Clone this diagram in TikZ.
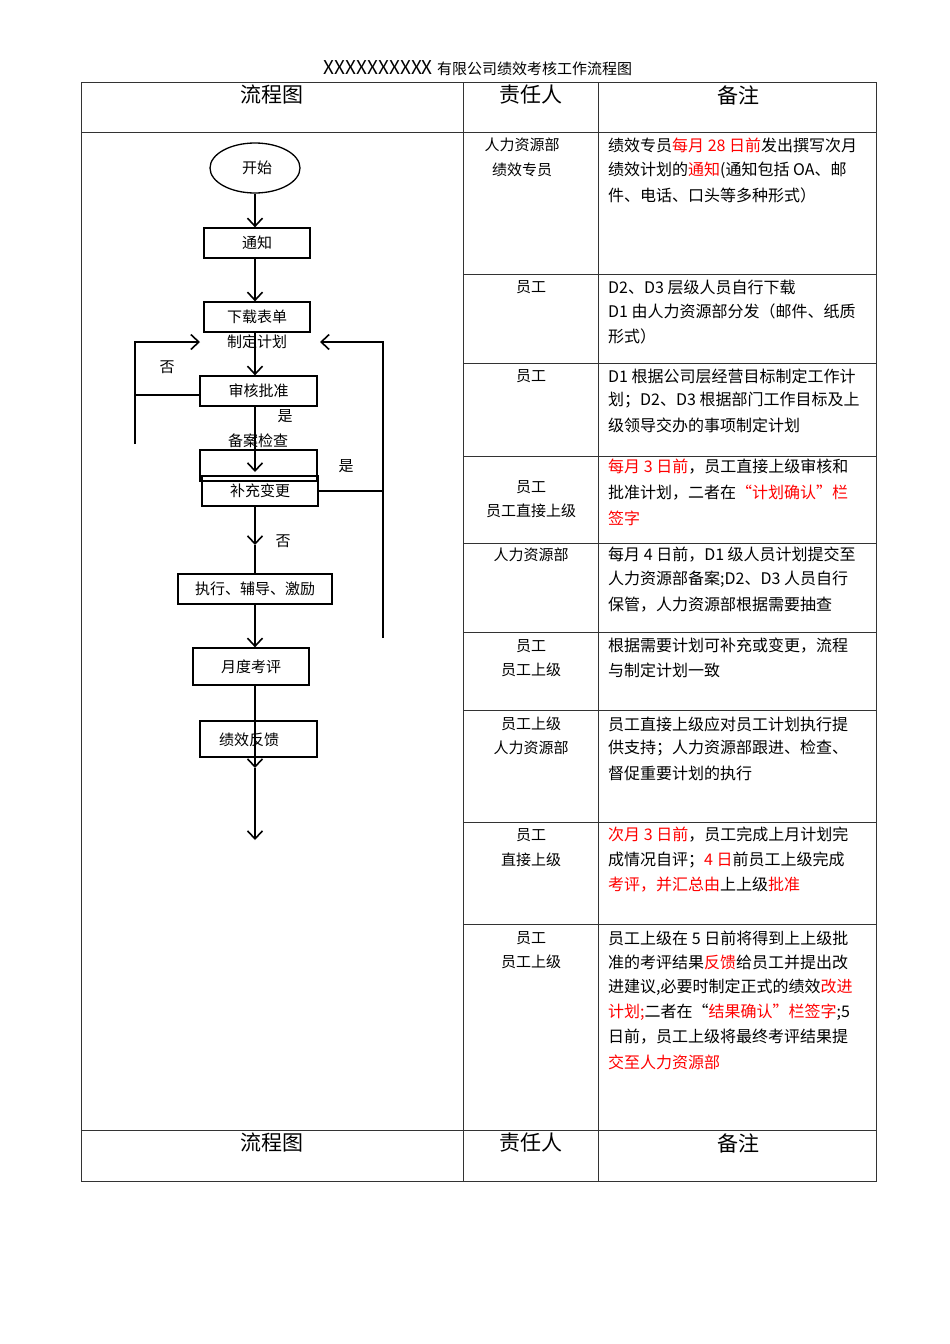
\documentclass[tikz,border=0pt]{standalone}
\usepackage{fontspec}
\setmainfont{Noto Sans CJK SC}
\usetikzlibrary{arrows.meta,shapes.geometric}
\newcommand{\rd}[1]{\textcolor{red}{#1}}
\tikzset{
 every node/.style={inner sep=0pt,font=\fontsize{15}{15}\selectfont},
 grid/.style={line width=0.6pt,black!80},
 box/.style={draw,line width=1.3pt},
 fl/.style={line width=1.3pt},
 arr/.style={line width=1.3pt,-{Straight Barb[length=8pt,width=15pt,line width=1.6pt]}},
 note/.style={anchor=west,font=\fontsize{16}{16}\selectfont},
 who/.style={anchor=center},
 head/.style={font=\fontsize{21}{21}\selectfont},
}
\begin{document}
\begin{tikzpicture}[x=1pt,y=-1pt]
\useasboundingbox (0,0) rectangle (950,1344);
\node at (478,68) {{\fontsize{19}{19}\selectfont XXXXXXXXXX }有限公司绩效考核工作流程图};
% table
\draw[grid] (81,82) rectangle (876,1181);
\draw[grid] (463,82) -- (463,1181) (598,82) -- (598,1181);
\foreach \y in {132,1130} \draw[grid] (81,\y) -- (876,\y);
\foreach \y in {274,363,456,543,632,710,822,924} \draw[grid] (463,\y) -- (876,\y);
\foreach \y in {95,1143}{
 \node[head] at (272,\y) {流程图};
 \node[head] at (531,\y) {责任人};
 \node[head] at (738,\y) {备注};}
% responsible
\node[who] at (522,145) {人力资源部}; \node[who] at (522,170) {绩效专员};
\node[who] at (531,287) {员工};
\node[who] at (531,376) {员工};
\node[who] at (531,487) {员工}; \node[who] at (531,511) {员工直接上级};
\node[who] at (531,555) {人力资源部};
\node[who] at (531,646) {员工}; \node[who] at (531,670) {员工上级};
\node[who] at (531,724) {员工上级}; \node[who] at (531,748) {人力资源部};
\node[who] at (531,835) {员工}; \node[who] at (531,860) {直接上级};
\node[who] at (531,938) {员工}; \node[who] at (531,962) {员工上级};
% notes
\node[note] at (608,145) {绩效专员\rd{每月 28 日前}发出撰写次月};
\node[note] at (608,170) {绩效计划的\rd{通知}(通知包括 OA、邮};
\node[note] at (608,195) {件、电话、口头等多种形式）};
\node[note] at (608,287) {D2、D3 层级人员自行下载};
\node[note] at (608,311) {D1 由人力资源部分发（邮件、纸质};
\node[note] at (608,336) {形式）};
\node[note] at (608,376) {D1 根据公司层经营目标制定工作计};
\node[note] at (608,400) {划；D2、D3 根据部门工作目标及上};
\node[note] at (608,425) {级领导交办的事项制定计划};
\node[note] at (608,467) {\rd{每月 3 日前}，员工直接上级审核和};
\node[note] at (608,493) {批准计划，二者在\rd{“计划确认”栏}};
\node[note] at (608,518) {\rd{签字}};
\node[note] at (608,555) {每月 4 日前，D1 级人员计划提交至};
\node[note] at (608,579) {人力资源部备案;D2、D3 人员自行};
\node[note] at (608,605) {保管，人力资源部根据需要抽查};
\node[note] at (608,646) {根据需要计划可补充或变更，流程};
\node[note] at (608,670) {与制定计划一致};
\node[note] at (608,724) {员工直接上级应对员工计划执行提};
\node[note] at (608,748) {供支持；人力资源部跟进、检查、};
\node[note] at (608,773) {督促重要计划的执行};
\node[note] at (608,835) {\rd{次月 3 日前}，员工完成上月计划完};
\node[note] at (608,860) {成情况自评；\rd{4 日}前员工上级完成};
\node[note] at (608,885) {\rd{考评，并汇总由}上上级\rd{批准}};
\node[note] at (608,938) {员工上级在 5 日前将得到上上级批};
\node[note] at (608,962) {准的考评结果\rd{反馈}给员工并提出改};
\node[note] at (608,987) {进建议,必要时制定正式的绩效\rd{改进}};
\node[note] at (608,1012) {\rd{计划;}二者在“\rd{结果确认”栏签字};5};
\node[note] at (608,1037) {日前，员工上级将最终考评结果提};
\node[note] at (608,1062) {\rd{交至人力资源部}};
% flowchart
\node[draw,ellipse,line width=1.3pt,minimum width=90pt,minimum height=50pt] (start) at (255,168) {};
\node at (257,168) {开始};
\node[box,minimum width=106pt,minimum height=30pt] (tz) at (257,243) {通知};
\node[box,minimum width=106pt,minimum height=30pt] (xz) at (257,317) {下载表单};
\node (zd) at (257,342) {制定计划};
\node[box,minimum width=117pt,minimum height=30pt] (sh) at (258.5,391) {审核批准};
\node at (285,416) {是};
\node (ba) at (258,441) {备案检查};
\node[box,minimum width=117pt,minimum height=31pt] (eb) at (258.5,465.5) {};
\node[box,minimum width=116pt,minimum height=30pt] (bc) at (260,491) {补充变更};
\node at (283,541) {否};
\node[box,minimum width=154pt,minimum height=30pt] (zx) at (255,589) {执行、辅导、激励};
\node[box,minimum width=116pt,minimum height=37pt] (yd) at (251,666.5) {月度考评};
\node[box,minimum width=117pt,minimum height=36pt] (fk) at (258.5,739) {};
\node at (249,740) {绩效反馈};
\coordinate (c1) at (255,472);
\coordinate (c2) at (255,768);
\coordinate (c3) at (255,840);
\draw[arr] (start.south -| 255,0) -- (tz.north -| 255,0);
\draw[arr] (tz.south -| 255,0) -- (xz.north -| 255,0);
\draw[arr] (xz.south -| 255,0) -- (sh.north -| 255,0);
\draw[arr] (sh.south -| 255,0) -- (c1);
\draw[arr] (bc.south -| 255,0) -- (255,545);
\draw[fl] (255,545) -- (zx.north -| 255,0);
\draw[arr] (zx.south -| 255,0) -- (yd.north -| 255,0);
\draw[arr] (yd.south -| 255,0) -- (c2);
\draw[arr] (c2) -- (c3);
% loops
\draw[fl] (sh.west |- 0,395) -- (135,395);
\draw[arr] (135,444) -- (135,342) -- (200,342);
\node at (167,367) {否};
\draw[arr] (383,638) -- (383,342) -- (320,342);
\draw[fl] (bc.east) -- (383,491);
\node at (346,466) {是};
\end{tikzpicture}
\end{document}
